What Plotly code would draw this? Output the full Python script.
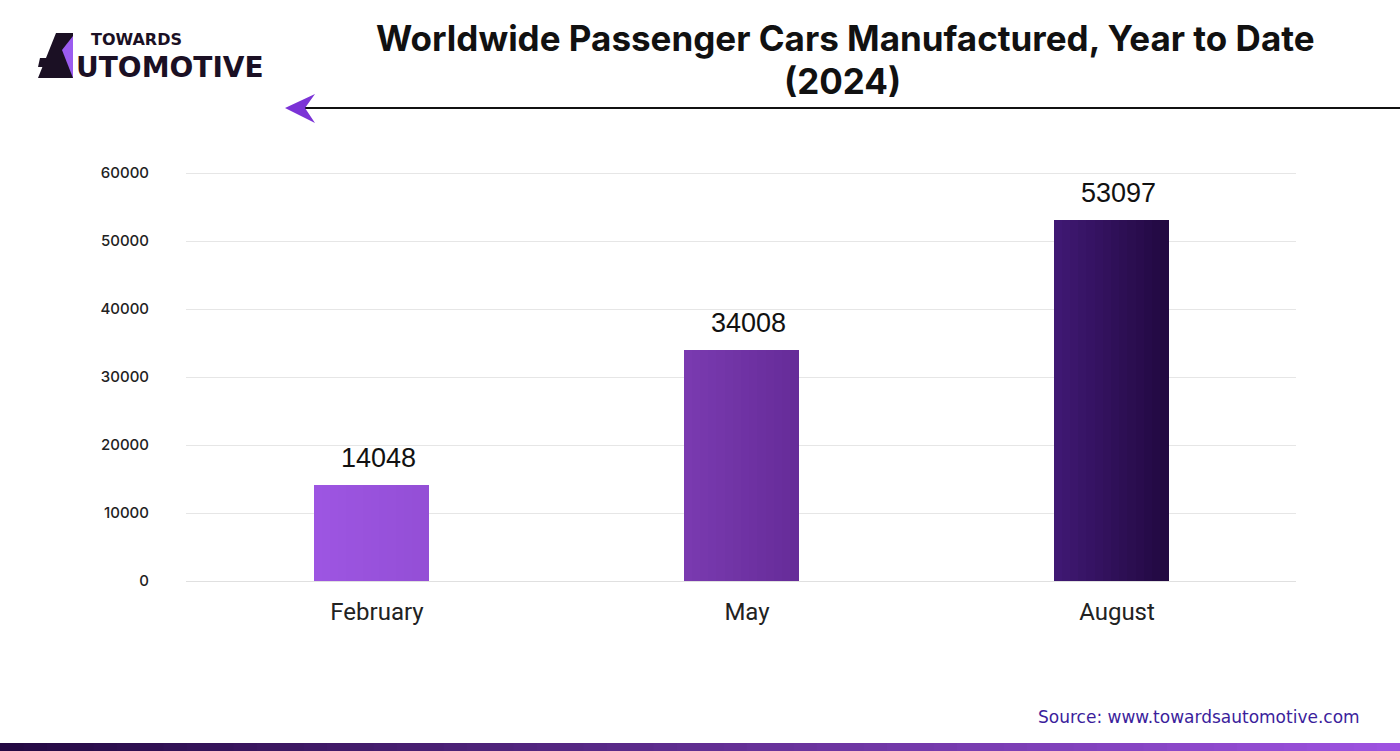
import plotly.graph_objects as go

# ---- data ----
categories = ["February", "May", "August"]
values = [14048, 34008, 53097]
y_ticks = [0, 10000, 20000, 30000, 40000, 50000, 60000]

# gradient colours per bar (left edge, right edge)
bar_left = ["#9D55E2", "#7A3AB0", "#3F1873"]
bar_right = ["#944FD6", "#662C99", "#220941"]

W, H = 1400, 751
ML, MR, MT, MB = 186, 104, 171, 170
PW, PH = W - ML - MR, H - MT - MB


def hex2rgb(h):
    h = h.lstrip("#")
    return tuple(int(h[i:i + 2], 16) for i in (0, 2, 4))


def mix(a, b, t):
    ra, rb = hex2rgb(a), hex2rgb(b)
    return "rgb(%d,%d,%d)" % tuple(round(ra[k] + (rb[k] - ra[k]) * t) for k in range(3))


def fx(x):
    return (x - ML) / PW


def fy(y):
    return (H - MB - y) / PH


def px(x, y):
    return "%.5f,%.5f" % (fx(x), fy(y))


fig = go.Figure()

BW = 0.31
N = 14
for i in range(N):
    t = i / (N - 1)
    fig.add_trace(go.Bar(
        x=categories, y=values,
        width=BW / N + 0.002,
        offset=-BW / 2 + i * BW / N,
        marker=dict(color=[mix(l, r, t) for l, r in zip(bar_left, bar_right)], line=dict(width=0)),
        hoverinfo="skip", showlegend=False,
    ))

for c, v in zip(categories, values):
    fig.add_annotation(x=c, y=v, text=str(v), showarrow=False, yanchor="bottom", yshift=10, xshift=7,
                       font=dict(family="Liberation Sans, Arial", size=27, color="#111111"))

shapes = []
# header line with arrow
shapes.append(dict(type="line", xref="paper", yref="paper", x0=fx(300), x1=fx(1400),
                   y0=fy(108), y1=fy(108), line=dict(color="#111111", width=1.8)))
# arrow head
shapes.append(dict(type="path", xref="paper", yref="paper",
                   path="M%s L%s L%s L%s Z" % (px(285, 108), px(315, 94), px(305, 108), px(315, 123)),
                   fillcolor="#7B33D6", line=dict(width=0)))
# logo "A" icon
shapes.append(dict(type="path", xref="paper", yref="paper",
                   path="M%s L%s L%s L%s L%s Z" % (px(38, 78), px(56, 33), px(73, 33), px(73, 78), px(60, 78)),
                   fillcolor="#1B1024", line=dict(width=0)))
shapes.append(dict(type="path", xref="paper", yref="paper",
                   path="M%s L%s L%s Z" % (px(62, 50), px(73, 36), px(73, 78)),
                   fillcolor="#9B5CF0", line=dict(width=0)))
shapes.append(dict(type="path", xref="paper", yref="paper",
                   path="M%s L%s L%s L%s Z" % (px(40, 58), px(60, 58), px(60, 67), px(38, 67)),
                   fillcolor="#1B1024", line=dict(width=0)))

# bottom gradient band
M = 60
for i in range(M):
    t = i / (M - 1)
    shapes.append(dict(type="rect", xref="paper", yref="paper",
                       x0=fx(i * W / M), x1=fx((i + 1) * W / M + 1),
                       y0=fy(751), y1=fy(743),
                       fillcolor=mix("#240943", "#9D52E0", t), line=dict(width=0)))

fig.update_layout(
    width=W, height=H,
    margin=dict(l=ML, r=MR, t=MT, b=MB),
    paper_bgcolor="white", plot_bgcolor="white",
    barmode="overlay", bargap=0,
    shapes=shapes,
    xaxis=dict(categoryorder="array", categoryarray=categories,
               tickfont=dict(family="Roboto, Arial", size=24, color="#222222"),
               ticks="", ticklabelstandoff=14, ticklabelshift=6, showline=False, showgrid=False),
    yaxis=dict(range=[0, 60300], tickvals=y_ticks, ticktext=[str(v) for v in y_ticks],
               tickfont=dict(family="Inter, Arial", size=15, color="#222222", weight=500),
               showgrid=True, gridcolor="#E6E6E6", gridwidth=1,
               zeroline=True, zerolinecolor="#E0E0E0", zerolinewidth=1,
               ticks="", ticklabelstandoff=36, showline=False, fixedrange=True),
    showlegend=False,
)

# title
fig.add_annotation(xref="paper", yref="paper", x=fx(845), y=fy(38),
                   text="Worldwide Passenger Cars Manufactured, Year to Date", showarrow=False,
                   xanchor="center", yanchor="middle",
                   font=dict(family="Inter, Arial", size=35, color="#111111", weight=700))
fig.add_annotation(xref="paper", yref="paper", x=fx(842), y=fy(81),
                   text="(2024)", showarrow=False, xanchor="center", yanchor="middle",
                   font=dict(family="Inter, Arial", size=35, color="#111111", weight=700))
# logo text
fig.add_annotation(xref="paper", yref="paper", x=fx(89), y=fy(40),
                   text="TOWARDS", showarrow=False, xanchor="left", yanchor="middle",
                   font=dict(family="DejaVu Sans", size=16, color="#1B1024", weight=700))
fig.add_annotation(xref="paper", yref="paper", x=fx(74), y=fy(67),
                   text="UTOMOTIVE", showarrow=False, xanchor="left", yanchor="middle",
                   font=dict(family="DejaVu Sans", size=28, color="#1B1024", weight=700))
# source
fig.add_annotation(xref="paper", yref="paper", x=fx(1362), y=fy(717),
                   text="Source: www.towardsautomotive.com", showarrow=False, xanchor="right", yanchor="middle",
                   font=dict(family="DejaVu Sans", size=17, color="#3B1E9C"))

fig.write_html("out.html")
